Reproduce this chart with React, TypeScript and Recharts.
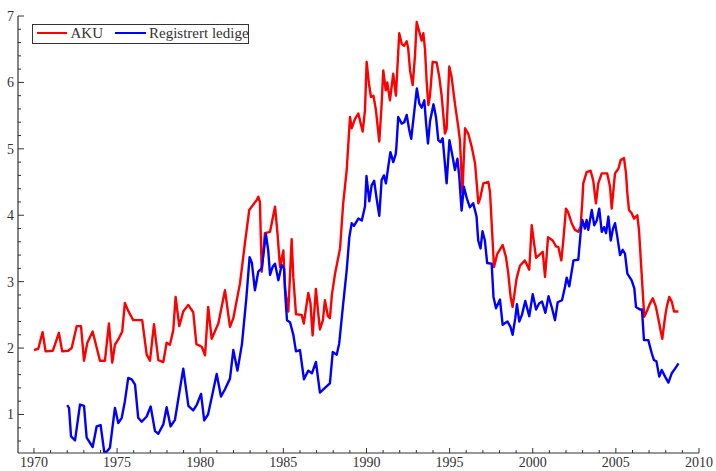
import React from "react";
import { LineChart, Line, XAxis, YAxis } from "recharts";

// AKU (labour force survey) unemployment, % — [year, value]
const akuSeries: [number, number][] = [
  [1970.0, 1.97], [1970.26, 1.99], [1970.52, 2.24], [1970.7, 1.95], [1971.14, 1.96],
  [1971.5, 2.23], [1971.7, 1.95], [1972.06, 1.96], [1972.27, 2.0], [1972.57, 2.33],
  [1972.83, 2.33], [1973.01, 1.81], [1973.21, 2.08], [1973.53, 2.25], [1973.97, 1.81],
  [1974.27, 1.81], [1974.51, 2.37], [1974.71, 1.78], [1974.87, 2.05], [1975.07, 2.13],
  [1975.31, 2.25], [1975.47, 2.68], [1975.67, 2.56], [1975.97, 2.42], [1976.51, 2.42],
  [1976.78, 1.9], [1976.98, 1.81], [1977.22, 2.36], [1977.48, 1.82], [1977.78, 1.79],
  [1977.98, 2.08], [1978.18, 2.05], [1978.38, 2.27], [1978.52, 2.77], [1978.74, 2.33],
  [1978.98, 2.55], [1979.28, 2.65], [1979.58, 2.54], [1979.77, 2.06], [1980.09, 2.02],
  [1980.29, 1.89], [1980.48, 2.62], [1980.69, 2.14], [1981.09, 2.37], [1981.49, 2.87],
  [1981.79, 2.32], [1981.99, 2.45], [1982.39, 2.97], [1982.69, 3.58], [1982.95, 4.08],
  [1983.4, 4.23], [1983.49, 4.28], [1983.59, 4.2], [1983.7, 3.15], [1983.89, 3.73],
  [1984.2, 3.75], [1984.5, 4.13], [1984.64, 3.75], [1984.8, 3.22], [1985.0, 3.47],
  [1985.1, 2.9], [1985.3, 2.55], [1985.5, 3.64], [1985.6, 3.06], [1985.76, 2.51],
  [1986.1, 2.5], [1986.23, 2.37], [1986.5, 2.83], [1986.63, 2.68], [1986.76, 2.19],
  [1986.96, 2.89], [1987.1, 2.52], [1987.2, 2.28], [1987.38, 2.42], [1987.5, 2.72],
  [1987.68, 2.48], [1987.8, 2.45], [1987.92, 2.8], [1988.11, 3.12], [1988.41, 3.5],
  [1988.6, 4.18], [1988.81, 4.68], [1988.91, 5.08], [1989.01, 5.48], [1989.11, 5.31],
  [1989.31, 5.45], [1989.51, 5.53], [1989.77, 5.26], [1989.91, 5.58], [1990.01, 6.31],
  [1990.15, 5.98], [1990.27, 5.78], [1990.42, 5.8], [1990.57, 5.58], [1990.77, 5.11],
  [1990.91, 5.66], [1991.01, 6.18], [1991.16, 5.88], [1991.25, 6.0], [1991.41, 5.73],
  [1991.61, 6.13], [1991.77, 5.8], [1991.97, 6.74], [1992.12, 6.58], [1992.26, 6.55],
  [1992.42, 6.62], [1992.51, 6.51], [1992.62, 6.18], [1992.78, 5.96], [1992.92, 6.41],
  [1993.02, 6.91], [1993.18, 6.76], [1993.32, 6.63], [1993.42, 6.74], [1993.52, 6.5],
  [1993.62, 6.01], [1993.72, 5.66], [1993.82, 5.8], [1993.98, 6.31], [1994.22, 6.3],
  [1994.38, 6.08], [1994.52, 5.8], [1994.72, 5.23], [1994.82, 5.3], [1994.98, 6.24],
  [1995.12, 6.08], [1995.32, 5.68], [1995.52, 5.33], [1995.62, 5.13], [1995.77, 4.34],
  [1995.93, 5.31], [1996.12, 5.23], [1996.33, 5.03], [1996.53, 4.78], [1996.73, 4.18],
  [1996.83, 4.25], [1997.03, 4.48], [1997.33, 4.5], [1997.43, 4.35], [1997.53, 3.88],
  [1997.67, 3.22], [1997.87, 3.42], [1998.19, 3.55], [1998.39, 3.37], [1998.53, 3.12],
  [1998.67, 2.77], [1998.79, 2.62], [1999.03, 3.05], [1999.23, 3.24], [1999.53, 3.32],
  [1999.79, 3.18], [1999.94, 3.85], [2000.08, 3.58], [2000.2, 3.36], [2000.38, 3.4],
  [2000.6, 3.45], [2000.74, 3.07], [2000.92, 3.67], [2001.2, 3.62], [2001.4, 3.53],
  [2001.54, 3.52], [2001.72, 3.32], [2001.84, 3.62], [2002.0, 4.1], [2002.12, 4.05],
  [2002.34, 3.88], [2002.54, 3.78], [2002.74, 3.75], [2002.88, 3.83], [2002.98, 4.2],
  [2003.04, 4.48], [2003.24, 4.65], [2003.48, 4.67], [2003.64, 4.52], [2003.8, 4.18],
  [2003.94, 4.48], [2004.15, 4.63], [2004.48, 4.63], [2004.65, 4.43], [2004.75, 4.1],
  [2004.89, 4.48], [2004.95, 4.63], [2005.15, 4.7], [2005.29, 4.83], [2005.49, 4.86],
  [2005.61, 4.63], [2005.69, 4.33], [2005.79, 4.08], [2005.95, 4.03], [2006.09, 3.95],
  [2006.29, 4.0], [2006.39, 3.78], [2006.49, 3.37], [2006.61, 2.87], [2006.71, 2.47],
  [2006.89, 2.57], [2007.05, 2.67], [2007.22, 2.75], [2007.41, 2.62], [2007.61, 2.37],
  [2007.79, 2.14], [2007.96, 2.47], [2008.06, 2.62], [2008.21, 2.77], [2008.36, 2.7],
  [2008.5, 2.55], [2008.76, 2.55],
];

// Registered unemployed, % — [year, value]
const regSeries: [number, number][] = [
  [1972.0, 1.14], [1972.11, 1.1], [1972.23, 0.67], [1972.47, 0.61], [1972.77, 1.15],
  [1973.01, 1.13], [1973.17, 0.65], [1973.53, 0.51], [1973.77, 0.82], [1974.01, 0.84],
  [1974.23, 0.43], [1974.37, 0.44], [1974.57, 0.5], [1974.87, 1.1], [1975.07, 0.87],
  [1975.28, 0.95], [1975.47, 1.2], [1975.67, 1.55], [1975.88, 1.53], [1976.08, 1.45],
  [1976.27, 0.95], [1976.48, 0.89], [1976.78, 0.97], [1977.02, 1.12], [1977.28, 0.75],
  [1977.48, 0.71], [1977.78, 0.85], [1977.98, 1.11], [1978.22, 0.82], [1978.48, 0.92],
  [1978.68, 1.23], [1978.98, 1.69], [1979.29, 1.13], [1979.58, 1.06], [1979.8, 1.15],
  [1980.05, 1.31], [1980.24, 0.91], [1980.47, 1.0], [1980.73, 1.3], [1980.99, 1.61],
  [1981.25, 1.27], [1981.49, 1.38], [1981.79, 1.54], [1981.99, 1.97], [1982.24, 1.66],
  [1982.51, 2.06], [1982.77, 2.74], [1982.97, 3.37], [1983.11, 3.28], [1983.29, 2.87],
  [1983.49, 3.15], [1983.7, 3.2], [1983.95, 3.72], [1984.09, 3.47], [1984.2, 3.1],
  [1984.35, 3.22], [1984.5, 3.27], [1984.7, 3.02], [1984.9, 3.25], [1985.04, 3.2],
  [1985.13, 2.75], [1985.22, 2.42], [1985.4, 2.39], [1985.6, 2.2], [1985.76, 1.95],
  [1986.0, 1.97], [1986.24, 1.53], [1986.5, 1.66], [1986.72, 1.62], [1986.96, 1.79],
  [1987.2, 1.33], [1987.5, 1.4], [1987.8, 1.47], [1987.97, 1.94], [1988.21, 1.9],
  [1988.36, 2.07], [1988.6, 2.67], [1988.81, 3.17], [1988.97, 3.67], [1989.11, 3.88],
  [1989.25, 3.84], [1989.51, 3.95], [1989.72, 3.92], [1989.91, 4.13], [1990.0, 4.59],
  [1990.17, 4.21], [1990.31, 4.45], [1990.46, 4.52], [1990.61, 4.25], [1990.77, 3.99],
  [1990.91, 4.53], [1991.05, 4.6], [1991.17, 4.48], [1991.31, 4.73], [1991.44, 4.95],
  [1991.61, 4.8], [1991.76, 4.92], [1991.8, 5.03], [1991.91, 5.48], [1992.12, 5.38],
  [1992.27, 5.4], [1992.42, 5.51], [1992.56, 5.3], [1992.69, 5.15], [1992.86, 5.53],
  [1993.03, 5.91], [1993.18, 5.68], [1993.32, 5.62], [1993.48, 5.73], [1993.58, 5.4],
  [1993.7, 5.08], [1993.82, 5.41], [1994.03, 5.67], [1994.18, 5.48], [1994.32, 5.13],
  [1994.45, 5.1], [1994.58, 5.16], [1994.72, 4.77], [1994.82, 4.48], [1994.99, 5.13],
  [1995.18, 4.88], [1995.32, 4.68], [1995.47, 4.85], [1995.58, 4.58], [1995.72, 4.07],
  [1995.86, 4.43], [1996.04, 4.25], [1996.22, 4.12], [1996.42, 4.18], [1996.62, 3.98],
  [1996.72, 3.62], [1996.86, 3.5], [1996.98, 3.76], [1997.12, 3.62], [1997.26, 3.28],
  [1997.53, 3.27], [1997.64, 2.77], [1997.79, 2.6], [1998.03, 2.73], [1998.19, 2.35],
  [1998.48, 2.4], [1998.66, 2.32], [1998.79, 2.2], [1998.95, 2.45], [1999.05, 2.66],
  [1999.19, 2.4], [1999.35, 2.5], [1999.55, 2.71], [1999.79, 2.48], [2000.0, 2.81],
  [2000.2, 2.58], [2000.38, 2.67], [2000.56, 2.7], [2000.76, 2.53], [2000.95, 2.78],
  [2001.16, 2.6], [2001.34, 2.42], [2001.5, 2.69], [2001.76, 2.72], [2001.94, 2.92],
  [2002.04, 3.06], [2002.2, 2.93], [2002.45, 3.32], [2002.74, 3.33], [2002.88, 3.73],
  [2002.98, 3.93], [2003.14, 3.8], [2003.24, 3.93], [2003.34, 3.78], [2003.55, 4.08],
  [2003.7, 3.85], [2003.85, 3.92], [2004.0, 4.1], [2004.15, 3.75], [2004.29, 3.82],
  [2004.41, 3.73], [2004.55, 3.98], [2004.69, 3.62], [2004.83, 3.8], [2004.95, 3.88],
  [2005.09, 3.67], [2005.25, 3.4], [2005.41, 3.48], [2005.55, 3.42], [2005.69, 3.12],
  [2005.95, 3.02], [2006.11, 2.9], [2006.21, 2.62], [2006.45, 2.58], [2006.57, 2.58],
  [2006.69, 2.12], [2006.95, 2.12], [2007.16, 1.92], [2007.29, 1.82], [2007.44, 1.8],
  [2007.61, 1.57], [2007.76, 1.67], [2007.96, 1.57], [2008.16, 1.48], [2008.36, 1.62],
  [2008.56, 1.69], [2008.77, 1.77],
];

const seriesNames = ["AKU", "Registrert ledige"];
const seriesColors = ["#ff0000", "#0000ff"];

const xMajorLabels = [1970, 1975, 1980, 1985, 1990, 1995, 2000, 2005, 2010];
const xTicks = Array.from({ length: 41 }, (_, i) => 1970 + i);
const yMajorLabels = [1, 2, 3, 4, 5, 6, 7];
const yTicks = Array.from({ length: 33 }, (_, i) => Math.round((0.6 + i * 0.2) * 10) / 10);

const akuData = akuSeries.map(([x, y]) => ({ x, y }));
const regData = regSeries.map(([x, y]) => ({ x, y }));

const FONT = "'Liberation Serif', 'Times New Roman', serif";
const AXIS = "#333";

const XTick = (props: any) => {
  const { x, y, payload } = props;
  const v = payload.value;
  const major = xMajorLabels.includes(Math.round(v));
  return (
    <g>
      <line x1={x} x2={x} y1={y} y2={y - (major ? 5 : 3)} stroke={AXIS} strokeWidth={1} />
      {major && (
        <text x={x} y={y + 14} textAnchor="middle" fontFamily={FONT} fontSize={14} fill="#333">
          {Math.round(v)}
        </text>
      )}
    </g>
  );
};

const YTick = (props: any) => {
  const { x, y, payload } = props;
  const v = payload.value;
  const major = yMajorLabels.some((m) => Math.abs(m - v) < 1e-6);
  return (
    <g>
      <line x1={x} x2={x + (major ? 6 : 3)} y1={y} y2={y} stroke={AXIS} strokeWidth={1} />
      {major && (
        <text x={x - 4} y={y} dy="0.35em" textAnchor="end" fontFamily={FONT} fontSize={14} fill="#333">
          {Math.round(v)}
        </text>
      )}
    </g>
  );
};

export default function App() {
  return (
    <div style={{ position: "absolute", left: 0, top: 0, width: 716, height: 471, background: "#fff" }}>
      <LineChart width={716} height={471} margin={{ top: 16, right: 17, bottom: 0, left: 0 }}>
        <XAxis
          type="number"
          dataKey="x"
          domain={[1969.04, 2010]}
          ticks={xTicks}
          interval={0}
          height={18}
          tickSize={0}
          tickMargin={0}
          tickLine={false}
          axisLine={{ stroke: AXIS, strokeWidth: 1.2 }}
          tick={<XTick />}
          allowDataOverflow
        />
        <YAxis
          type="number"
          domain={[0.42, 7]}
          ticks={yTicks}
          interval={0}
          width={18}
          tickSize={0}
          tickMargin={0}
          tickLine={false}
          axisLine={{ stroke: AXIS, strokeWidth: 1.2 }}
          tick={<YTick />}
          allowDataOverflow
        />
        <Line
          data={akuData}
          dataKey="y"
          name={seriesNames[0]}
          type="linear"
          stroke={seriesColors[0]}
          strokeWidth={2.4}
          dot={false}
          isAnimationActive={false}
          strokeLinejoin="round"
        />
        <Line
          data={regData}
          dataKey="y"
          name={seriesNames[1]}
          type="linear"
          stroke={seriesColors[1]}
          strokeWidth={2.4}
          dot={false}
          isAnimationActive={false}
          strokeLinejoin="round"
        />
      </LineChart>
      <div
        style={{
          position: "absolute",
          left: 31.5,
          top: 23.5,
          width: 217.5,
          height: 20.5,
          border: "1px solid #333",
          boxSizing: "border-box",
        }}
      />
      <div style={{ position: "absolute", left: 36.5, top: 32.3, width: 30, height: 2.2, background: seriesColors[0] }} />
      <span style={{ position: "absolute", left: 70.5, top: 23.3, lineHeight: "20px", fontFamily: FONT, fontSize: 15, color: "#333", whiteSpace: "nowrap" }}>
        {seriesNames[0]}
      </span>
      <div style={{ position: "absolute", left: 115, top: 32.3, width: 30.5, height: 2.2, background: seriesColors[1] }} />
      <span style={{ position: "absolute", left: 149, top: 23.3, lineHeight: "20px", fontFamily: FONT, fontSize: 15, color: "#333", whiteSpace: "nowrap" }}>
        {seriesNames[1]}
      </span>
    </div>
  );
}
